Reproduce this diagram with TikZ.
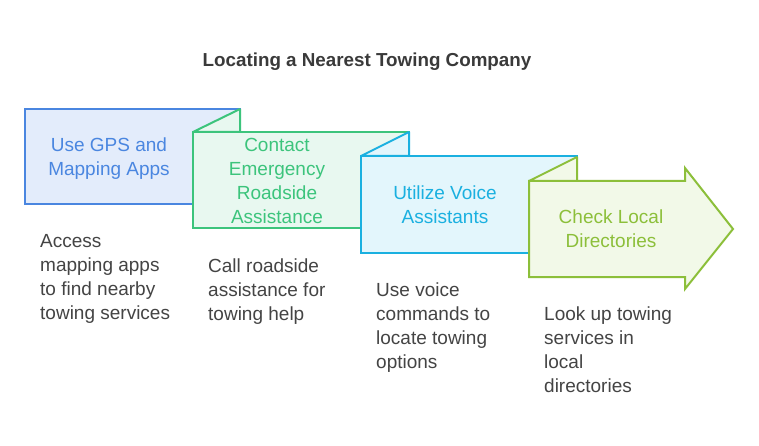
\documentclass[tikz,border=0pt]{standalone}
\usepackage{fontspec}
\setmainfont{Liberation Sans}
\definecolor{blueD}{HTML}{4A86E0}
\definecolor{blueL}{HTML}{E3ECFB}
\definecolor{greenD}{HTML}{3CC47C}
\definecolor{greenL}{HTML}{E8F8F0}
\definecolor{cyanD}{HTML}{1AB0E0}
\definecolor{cyanL}{HTML}{E3F6FC}
\definecolor{limeD}{HTML}{8CBF3A}
\definecolor{limeL}{HTML}{F2F9E8}
\definecolor{txt}{HTML}{444444}
\definecolor{ttl}{HTML}{3A3A3A}
\tikzset{
  shapebox/.style={line width=2pt, line join=miter},
  foldtri/.style={line width=2pt, line join=bevel},
  lbl/.style={align=center, inner sep=0pt, font=\fontsize{19}{24}\selectfont},
  desc/.style={align=left, inner sep=0pt, anchor=north west, text=txt, font=\fontsize{19}{24}\selectfont},
}
\begin{document}
\begin{tikzpicture}[x=1pt,y=-1pt]
\useasboundingbox[fill=white] (0,0) rectangle (759,446);
\node[font=\fontsize{18.8}{22}\selectfont\bfseries, text=ttl, anchor=base] (title) at (367,67) {Locating a Nearest Towing Company};
% box 1
\draw[shapebox, draw=blueD, fill=blueL] (25,109) rectangle (240,204);
% box 2
\draw[shapebox, draw=greenD, fill=greenL] (193,132) rectangle (409,228);
\draw[foldtri, draw=greenD, fill=greenL] (193,132) -- (240,109) -- (240,132) -- cycle;
% box 3
\draw[shapebox, draw=cyanD, fill=cyanL] (361,156) rectangle (577,253);
\draw[foldtri, draw=cyanD, fill=cyanL] (361,156) -- (409,132) -- (409,156) -- cycle;
% box 4 arrow
\draw[shapebox, draw=limeD, fill=limeL] (529,181) -- (685,181) -- (685,168) -- (733,229) -- (685,289) -- (685,277) -- (529,277) -- cycle;
\draw[foldtri, draw=limeD, fill=limeL] (529,181) -- (577,157) -- (577,181) -- cycle;
% labels
\node[lbl, text=blueD] (l1) at (109,159) {Use GPS and\\Mapping Apps};
\node[lbl, text=greenD] (l2) at (277,181) {Contact\\Emergency\\Roadside\\Assistance};
\node[lbl, text=cyanD] (l3) at (445,205) {Utilize Voice\\Assistants};
\node[lbl, text=limeD] (l4) at (611,229) {Check Local\\Directories};
% descriptions
\node[desc] (d1) at (40,234.5) {Access\\mapping apps\\to find nearby\\towing services};
\node[desc] (d2) at (208,258.5) {Call roadside\\assistance for\\towing help};
\node[desc] (d3) at (376,282.5) {Use voice\\commands to\\locate towing\\options};
\node[desc] (d4) at (544,306.5) {Look up towing\\services in\\local\\directories};
\end{tikzpicture}
\end{document}
